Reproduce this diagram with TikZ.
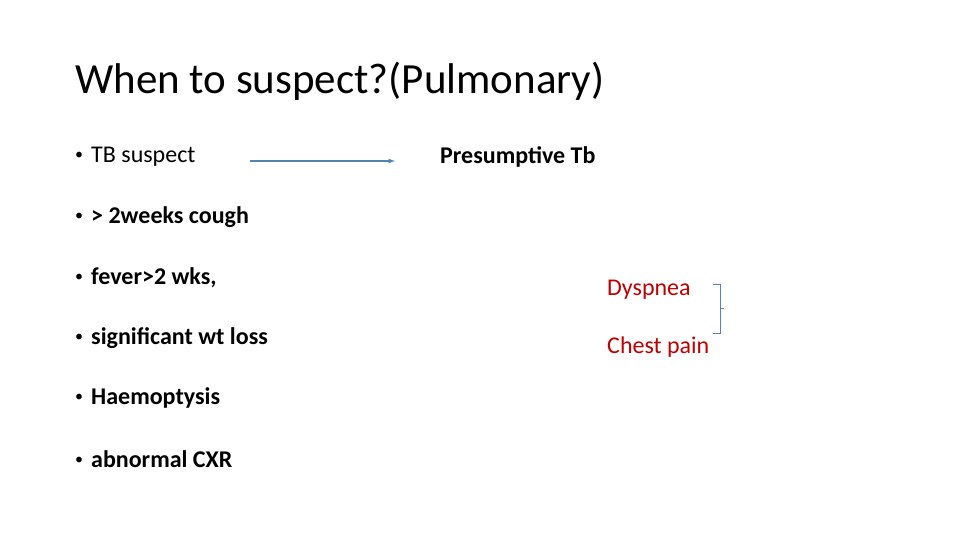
\documentclass[tikz,border=0pt]{standalone}
\usepackage{fontspec}
\setmainfont{Carlito}
\usetikzlibrary{positioning,arrows}
\definecolor{arrowblue}{RGB}{84,130,180}
\definecolor{symred}{RGB}{192,0,0}
\newcommand{\bul}{\makebox[16pt][l]{\raisebox{3pt}{\fontsize{16}{16}\selectfont\textbullet}}}
\tikzstyle{item} = [anchor=west, inner sep=0pt, font=\fontsize{24}{28}\selectfont]
\tikzstyle{symptom} = [anchor=west, inner sep=0pt, text=symred, font=\fontsize{24}{28}\selectfont]
\tikzstyle{arrow} = [arrowblue, line width=1.2pt, -latex]
\begin{document}
\begin{tikzpicture}[x=1pt, y=-1pt]
    \useasboundingbox (0,0) rectangle (960,540);
    \node (title) [anchor=west, inner sep=0pt, font=\fontsize{43}{50}\selectfont] at (75,81) {When to suspect?(Pulmonary)};
    \node (tb) [item] at (75,157) {\bul TB suspect};
    \node (cough) [item] at (75,217) {\bul\textbf{> 2weeks cough}};
    \node (fever) [item] at (75,278) {\bul\textbf{fever>2 wks,}};
    \node (wt) [item] at (75,338) {\bul\textbf{significant wt loss}};
    \node (haem) [item] at (75,398) {\bul\textbf{Haemoptysis}};
    \node (cxr) [item] at (75,459) {\bul\textbf{abnormal CXR}};
    \node (pres) [item] at (440,157) {\textbf{Presumptive Tb}};
    \node (dysp) [symptom] at (607,290) {Dyspnea};
    \node (chest) [symptom] at (607,347) {Chest pain};
    \coordinate (a1) at (250,161);
    \coordinate (a2) at (395,161);
    \draw [arrow] (a1) -- (a2);
    %bracket
    \draw [arrowblue, line width=0.8pt] (713,284) -- (720,284) -- (720,333) -- (713,333);
    \draw [arrowblue, line width=0.8pt] (720,308) -- (724,308);
\end{tikzpicture}
\end{document}
